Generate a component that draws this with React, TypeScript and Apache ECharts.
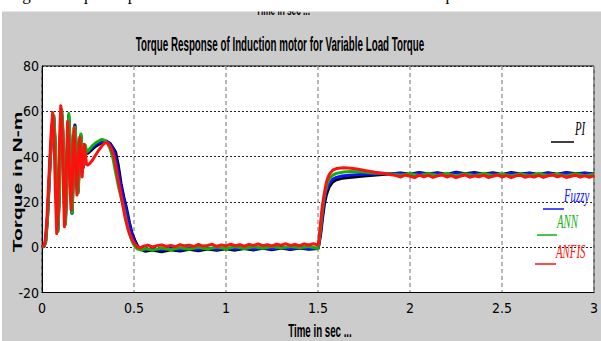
import React, { useEffect, useRef } from "react";
import * as echarts from "echarts";

// Torque (N-m) against time (s) for the four controllers, as [t, torque] pairs.
const piTorque: number[][] = [
  [0, 0], [0.012, 0.5], [0.02, 3], [0.03, 14], [0.045, 40], [0.056, 54], [0.064, 57], [0.071, 46], [0.079, 20],
  [0.086, 8], [0.093, 22], [0.099, 48], [0.106, 60], [0.113, 50], [0.12, 26], [0.127, 11], [0.133, 25],
  [0.139, 47], [0.145, 58], [0.151, 48], [0.157, 28], [0.163, 15], [0.169, 29], [0.175, 47], [0.179, 54],
  [0.185, 45], [0.191, 32], [0.196, 25], [0.202, 35], [0.207, 46], [0.211, 49], [0.217, 42], [0.223, 35],
  [0.229, 40], [0.235, 44], [0.241, 41.5], [0.25, 41.5], [0.27, 43], [0.29, 44.5], [0.31, 45.5], [0.33, 46.2],
  [0.35, 46.5], [0.37, 45.8], [0.385, 44], [0.4, 42], [0.415, 36], [0.43, 28], [0.445, 22], [0.46, 17],
  [0.475, 11], [0.49, 6], [0.505, 3], [0.52, 0.5], [0.54, -1],
  [0.56, -1.8], [0.6, -1.2], [0.65, -2], [0.7, -1.1], [0.75, -1.7], [0.8, -0.9], [0.85, -1.6], [0.9, -0.8],
  [0.95, -1.4], [1.0, -0.7], [1.05, -1.3], [1.1, -0.6], [1.15, -1.2], [1.2, -0.5], [1.25, -1.1], [1.3, -0.4],
  [1.35, -1.0], [1.4, -0.4], [1.45, -0.9], [1.5, -0.6],
  [1.505, 1], [1.515, 6], [1.525, 13], [1.535, 19], [1.545, 23], [1.56, 26.5], [1.58, 28.8], [1.6, 29.8],
  [1.63, 30.4], [1.67, 30.8], [1.71, 31.1], [1.75, 31.4], [1.8, 31.8], [1.85, 32.1], [1.9, 32.4],
  [1.95, 32.8], [2.0, 32.2], [2.05, 33], [2.1, 32.3], [2.15, 32.9], [2.2, 32.1], [2.25, 33.1], [2.3, 32.4],
  [2.35, 33], [2.4, 32.2], [2.45, 32.9], [2.5, 32.1], [2.55, 33], [2.6, 32.3], [2.65, 32.8], [2.7, 32.1],
  [2.75, 32.9], [2.8, 32.2], [2.85, 33], [2.9, 32.4], [2.95, 32.8], [3.0, 32.3],
];

const fuzzyTorque: number[][] = [
  [0, 0], [0.012, 0.5], [0.02, 2.5], [0.03, 13], [0.045, 39], [0.056, 54], [0.064, 57.5], [0.071, 46],
  [0.079, 20], [0.086, 7.5], [0.093, 21], [0.099, 47], [0.106, 60.5], [0.113, 51], [0.12, 26], [0.127, 10.5],
  [0.133, 24], [0.139, 46], [0.145, 58], [0.151, 48.5], [0.157, 28], [0.163, 15], [0.169, 28.5], [0.175, 46.5],
  [0.179, 53.5], [0.185, 45], [0.191, 32], [0.196, 24.5], [0.202, 35], [0.207, 46.5], [0.211, 49.5],
  [0.217, 42.5], [0.223, 35.5], [0.229, 40.5], [0.235, 44.5], [0.241, 42], [0.25, 42], [0.27, 43.8],
  [0.29, 45.2], [0.31, 46.2], [0.33, 46.7], [0.35, 46.9], [0.365, 46], [0.38, 44.2], [0.395, 41.5],
  [0.41, 35.5], [0.425, 28.5], [0.44, 23], [0.455, 17.5], [0.47, 11.5], [0.485, 6.5], [0.5, 3], [0.515, 0.6],
  [0.535, -0.8],
  [0.56, -1.2], [0.6, -0.6], [0.65, -1.4], [0.7, -0.5], [0.75, -1.2], [0.8, -0.4], [0.85, -1.1], [0.9, -0.3],
  [0.95, -1.0], [1.0, -0.3], [1.05, -0.9], [1.1, -0.2], [1.15, -0.9], [1.2, -0.2], [1.25, -0.8], [1.3, -0.1],
  [1.35, -0.8], [1.4, -0.1], [1.45, -0.7], [1.5, -0.4],
  [1.505, 1.5], [1.515, 7.5], [1.525, 15], [1.535, 21], [1.545, 25], [1.56, 27.8], [1.58, 30], [1.6, 30.8],
  [1.63, 31.4], [1.67, 31.8], [1.71, 32], [1.75, 32.2], [1.8, 32.3], [1.85, 32.4], [1.9, 32.4],
  [1.95, 32.6], [2.0, 32], [2.05, 32.8], [2.1, 32.1], [2.15, 32.7], [2.2, 31.9], [2.25, 32.8], [2.3, 32.2],
  [2.35, 32.7], [2.4, 32], [2.45, 32.6], [2.5, 31.9], [2.55, 32.7], [2.6, 32.1], [2.65, 32.6], [2.7, 31.9],
  [2.75, 32.7], [2.8, 32], [2.85, 32.8], [2.9, 32.1], [2.95, 32.6], [3.0, 32.1],
];

const annTorque: number[][] = [
  [0, 0], [0.012, 0.5], [0.02, 2], [0.03, 12], [0.045, 38], [0.057, 54], [0.065, 58], [0.072, 47], [0.08, 20],
  [0.087, 7], [0.094, 20], [0.1, 46], [0.107, 61], [0.114, 52], [0.121, 26], [0.128, 10], [0.134, 24],
  [0.14, 46], [0.146, 59], [0.152, 49], [0.158, 28], [0.164, 15], [0.17, 28], [0.176, 46], [0.18, 53],
  [0.186, 45], [0.192, 32], [0.197, 24], [0.203, 35], [0.208, 47], [0.212, 50], [0.218, 43], [0.224, 36],
  [0.23, 41], [0.236, 45], [0.242, 42], [0.25, 42.5], [0.27, 44.5], [0.29, 46], [0.31, 47], [0.325, 47.6],
  [0.34, 47.2], [0.355, 46], [0.37, 43.5], [0.385, 39.5], [0.4, 33], [0.415, 27], [0.43, 22], [0.445, 17],
  [0.46, 11], [0.475, 6], [0.49, 2.5], [0.505, 0.3], [0.52, -0.8], [0.54, -1.3],
  [0.56, -0.6], [0.6, -1.3], [0.65, -0.4], [0.7, -1.1], [0.75, -0.2], [0.8, -0.9], [0.85, 0], [0.9, -0.8],
  [0.95, 0.1], [1.0, -0.7], [1.05, 0.2], [1.1, -0.6], [1.15, 0.2], [1.2, -0.5], [1.25, 0.3], [1.3, -0.4],
  [1.35, 0.3], [1.4, -0.3], [1.45, 0.3], [1.5, -0.6],
  [1.505, 2], [1.515, 9], [1.525, 17], [1.535, 23], [1.55, 28], [1.565, 30.5], [1.58, 31.8], [1.6, 32.6],
  [1.64, 33.2], [1.68, 33.4], [1.72, 33.3], [1.76, 33.1], [1.8, 32.8], [1.85, 32.6], [1.9, 32.3],
  [1.95, 31.8], [2.0, 32.6], [2.05, 31.6], [2.1, 32.5], [2.15, 31.7], [2.2, 32.6], [2.25, 31.5], [2.3, 32.4],
  [2.35, 31.6], [2.4, 32.5], [2.45, 31.7], [2.5, 32.3], [2.55, 31.5], [2.6, 32.4], [2.65, 31.6], [2.7, 32.5],
  [2.75, 31.7], [2.8, 32.3], [2.85, 31.5], [2.9, 32.4], [2.95, 31.6], [3.0, 32.2],
];

const anfisTorque: number[][] = [
  [0, 0.3], [0.01, 0.6], [0.016, 2], [0.025, 10], [0.04, 35], [0.05, 51], [0.058, 59.5], [0.065, 50],
  [0.073, 24], [0.08, 6], [0.087, 16], [0.094, 45], [0.102, 62.5], [0.109, 53], [0.116, 26], [0.122, 9],
  [0.128, 20], [0.134, 42], [0.139, 55.5], [0.145, 47], [0.152, 26], [0.158, 16.5], [0.164, 27], [0.169, 45],
  [0.173, 52.5], [0.179, 44], [0.185, 30], [0.19, 23], [0.196, 33], [0.201, 45], [0.205, 48.5], [0.211, 41],
  [0.218, 31], [0.224, 38], [0.23, 45.5], [0.236, 41], [0.242, 36.5], [0.25, 36.3], [0.26, 37], [0.275, 38.5],
  [0.29, 40.5], [0.31, 43], [0.33, 45.2], [0.348, 46.3], [0.36, 45.8], [0.375, 43.8], [0.39, 40.5],
  [0.405, 34], [0.42, 27], [0.437, 19.5], [0.452, 13], [0.467, 8], [0.482, 4.6], [0.5, 1.8], [0.518, 0.2],
  [0.535, -0.3],
  [0.55, 0.4], [0.575, 0.9], [0.6, 0.1], [0.625, 0.7], [0.65, 1.0], [0.675, 0.3], [0.7, 0.8], [0.725, 0.2],
  [0.75, 1.1], [0.775, 0.6], [0.8, 0.9], [0.825, 0.3], [0.85, 1.2], [0.875, 0.5], [0.9, 0.8], [0.925, 1.3],
  [0.95, 0.4], [0.975, 1.0], [1.0, 0.6], [1.025, 1.3], [1.05, 0.7], [1.075, 1.1], [1.1, 0.5], [1.125, 1.2],
  [1.15, 0.8], [1.175, 1.4], [1.2, 0.7], [1.225, 1.1], [1.25, 0.6], [1.275, 1.3], [1.3, 0.9], [1.325, 1.5],
  [1.35, 0.8], [1.375, 1.2], [1.4, 0.7], [1.425, 1.4], [1.45, 1.0], [1.475, 1.5], [1.5, 0.9],
  [1.505, 3], [1.513, 10], [1.523, 18], [1.535, 24], [1.545, 28.5], [1.555, 31], [1.565, 32.6], [1.58, 34],
  [1.6, 34.7], [1.64, 35.1], [1.68, 34.9], [1.72, 34.4], [1.76, 33.8], [1.81, 33.1], [1.86, 32.5], [1.9, 32],
  [1.925, 31.6], [1.95, 31.0], [1.975, 31.9], [2.0, 31.3], [2.025, 30.7], [2.05, 31.8], [2.075, 31.1],
  [2.1, 31.7], [2.125, 30.8], [2.15, 31.5], [2.175, 31.9], [2.2, 31.0], [2.225, 31.6], [2.25, 30.7],
  [2.275, 31.4], [2.3, 31.9], [2.325, 30.9], [2.35, 31.5], [2.375, 31.1], [2.4, 31.8], [2.425, 30.8],
  [2.45, 31.3], [2.475, 31.9], [2.5, 31.0], [2.525, 31.6], [2.55, 30.7], [2.575, 31.5], [2.6, 31.8],
  [2.625, 30.9], [2.65, 31.4], [2.675, 31.0], [2.7, 31.7], [2.725, 30.8], [2.75, 31.5], [2.775, 31.9],
  [2.8, 31.1], [2.825, 31.6], [2.85, 30.8], [2.875, 31.3], [2.9, 31.8], [2.925, 31.0], [2.95, 31.5],
  [2.975, 30.9], [3.0, 31.6],
];

const controllerNames = ["PI", "Fuzzy", "ANN", "ANFIS"];
const controllerColors = ["#000000", "#1010ff", "#10b010", "#ff1010"];

const TITLE = "Torque Response of Induction motor for Variable Load Torque";
const X_NAME = "Time in sec ...";
const Y_NAME = "Torque in N-m";
const CAPTION = "Fig. 7. Torque response of induction motor for constant load torque";

const narrow = "'Liberation Sans Narrow', 'DejaVu Sans Condensed', 'Liberation Sans', sans-serif";

// Hand-placed "____Name" annotations on the right of the plot
const tagSpots = [
  { lx: 551, lw: 23, ly: 142, tx: 575, ty: 138 },
  { lx: 543, lw: 21, ly: 209, tx: 564, ty: 205 },
  { lx: 537, lw: 20, ly: 235, tx: 557, ty: 231 },
  { lx: 535, lw: 21, ly: 264, tx: 556, ty: 261 },
];

export default function App() {
  const ref = useRef<HTMLDivElement>(null);

  useEffect(() => {
    document.body.style.margin = "0";
    if (!ref.current) return;
    const chart = echarts.init(ref.current, undefined, { renderer: "svg" });

    const seriesData = [piTorque, fuzzyTorque, annTorque, anfisTorque];

    const tagElements: any[] = [];
    tagSpots.forEach((s, i) => {
      tagElements.push({
        type: "line",
        z: 20,
        shape: { x1: s.lx, y1: s.ly, x2: s.lx + s.lw, y2: s.ly },
        style: { stroke: controllerColors[i], lineWidth: 1.5 },
      });
      tagElements.push({
        type: "text",
        z: 20,
        x: s.tx,
        y: s.ty,
        scaleX: 0.57,
        scaleY: 1,
        style: {
          text: controllerNames[i],
          fill: controllerColors[i],
          font: "italic 19px 'Liberation Serif', 'DejaVu Serif', serif",
          textAlign: "left",
          textVerticalAlign: "bottom",
        },
      });
    });

    chart.setOption({
      animation: false,
      backgroundColor: "#cccccc",
      grid: {
        left: 42,
        right: 0,
        top: 66,
        bottom: 48.5,
        show: true,
        backgroundColor: "#ffffff",
        borderColor: "#000000",
        borderWidth: 1,
      },
      xAxis: {
        type: "value",
        min: 0,
        max: 3,
        interval: 0.5,
        axisLine: { show: true, onZero: false, lineStyle: { color: "#000", width: 1 } },
        axisTick: { show: false },
        axisLabel: { color: "#000", fontSize: 14, fontFamily: narrow, margin: 8 },
        splitLine: { show: true, lineStyle: { color: "#a0a0a0", type: [4, 3], width: 1.5 } },
      },
      yAxis: {
        type: "value",
        min: -20,
        max: 80,
        interval: 20,
        axisLine: { show: true, onZero: false, lineStyle: { color: "#000", width: 1 } },
        axisTick: { show: false },
        axisLabel: { color: "#000", fontSize: 14, fontFamily: narrow, margin: 3 },
        splitLine: { show: true, lineStyle: { color: "#222", type: [2, 2], width: 1 } },
      },
      series: seriesData.map((d, i) => ({
        name: controllerNames[i],
        type: "line",
        data: d,
        showSymbol: false,
        symbol: "none",
        z: 2 + i,
        lineStyle: { color: controllerColors[i], width: 3, join: "round" },
      })),
      graphic: [
        {
          type: "text",
          z: 5,
          x: 283,
          y: 18,
          scaleX: 0.55,
          scaleY: 1,
          style: {
            text: X_NAME,
            fill: "#000",
            font: "bold 15px 'Liberation Sans', Arial, sans-serif",
            textAlign: "center",
            textVerticalAlign: "bottom",
          },
        },
        { type: "rect", z: 8, shape: { x: 0, y: 0, width: 601, height: 11.5 }, style: { fill: "#ffffff" } },
        { type: "rect", z: 8, shape: { x: 0, y: 0, width: 2, height: 341 }, style: { fill: "#ffffff" } },
        {
          type: "text",
          z: 9,
          x: 8,
          y: 3,
          style: {
            text: CAPTION,
            fill: "#000",
            font: "17px 'Liberation Serif', 'Times New Roman', serif",
            textAlign: "left",
            textVerticalAlign: "bottom",
          },
        },
        {
          type: "text",
          z: 10,
          x: 280,
          y: 44,
          scaleX: 0.49,
          scaleY: 1,
          style: {
            text: TITLE,
            fill: "#000",
            font: "bold 20px 'Liberation Sans', Arial, sans-serif",
            textAlign: "center",
            textVerticalAlign: "middle",
          },
        },
        {
          type: "text",
          z: 10,
          x: 320,
          y: 331,
          scaleX: 0.54,
          scaleY: 1,
          style: {
            text: X_NAME,
            fill: "#000",
            font: "bold 18px 'Liberation Sans', Arial, sans-serif",
            textAlign: "center",
            textVerticalAlign: "middle",
          },
        },
        {
          // rotated y-axis title, stretched along its reading direction
          type: "group",
          x: 17.5,
          y: 182,
          rotation: Math.PI / 2,
          children: [
            {
              type: "text",
              z: 10,
              x: 0,
              y: 0,
              scaleX: 1.68,
              scaleY: 1,
              style: {
                text: Y_NAME,
                fill: "#000",
                font: "bold 12.5px 'Liberation Sans', Arial, sans-serif",
                textAlign: "center",
                textVerticalAlign: "middle",
              },
            },
          ],
        },
        ...tagElements,
      ],
    });

    return () => chart.dispose();
  }, []);

  return <div ref={ref} style={{ width: 601, height: 341 }} />;
}
